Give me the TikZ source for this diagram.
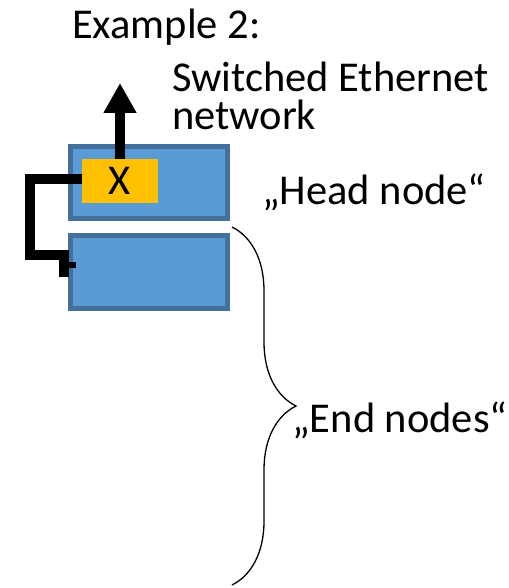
\documentclass[tikz,border=0pt]{standalone}
\usepackage{fontspec}
\setmainfont{Carlito}
\usetikzlibrary{arrows.meta,decorations.pathreplacing}
\definecolor{boxblue}{HTML}{5B9BD5}
\definecolor{boxedge}{HTML}{41719C}
\definecolor{swyellow}{HTML}{FFC000}
\tikzset{
  nodebox/.style={rectangle,draw=boxedge,fill=boxblue,line width=4.5pt,
    minimum width=157pt,inner sep=0pt},
  lbl/.style={inner sep=0pt,font=\fontsize{42.5}{38}\selectfont},
  link/.style={line width=10pt},
}
\begin{document}
\begin{tikzpicture}[x=1pt,y=-1pt]
\useasboundingbox (0,0) rectangle (508,588);
% the two nodes
\node[nodebox,minimum height=72pt] (hn) at (149,182.5) {};
\node[nodebox,minimum height=73pt] (en) at (149,272) {};
\node[lbl,fill=swyellow,minimum width=76pt,minimum height=44pt] (sw) at (120,181) {X};
% uplink to the network
\coordinate (net) at (120,83);
\draw[link,-{Triangle[length=30pt,width=31pt]}] (sw.north) -- (net);
% cable to the end node
\coordinate (c1) at (30,255);\coordinate (c2) at (64,277);
\draw[link] ([yshift=2pt]sw.west) -| (c1) -| (c2);
\draw[line width=6pt] ([yshift=12pt]c2) -- ++(12,0);
% labels
\node[lbl,anchor=base west] (ex) at (72,39) {Example 2:};
\node[lbl,anchor=north west,align=left] (se) at (172,62) {Switched Ethernet\\network};
\node[lbl,anchor=base west] (hl) at (262,204) {„Head node“};
\coordinate (bt) at (232,227);\coordinate (bb) at (232,585);
\draw[decorate,decoration={brace,amplitude=64pt},line width=1.3pt] (bt) -- (bb);
\node[lbl,anchor=base west] (el) at (292,432) {„End nodes“};
\end{tikzpicture}
\end{document}
